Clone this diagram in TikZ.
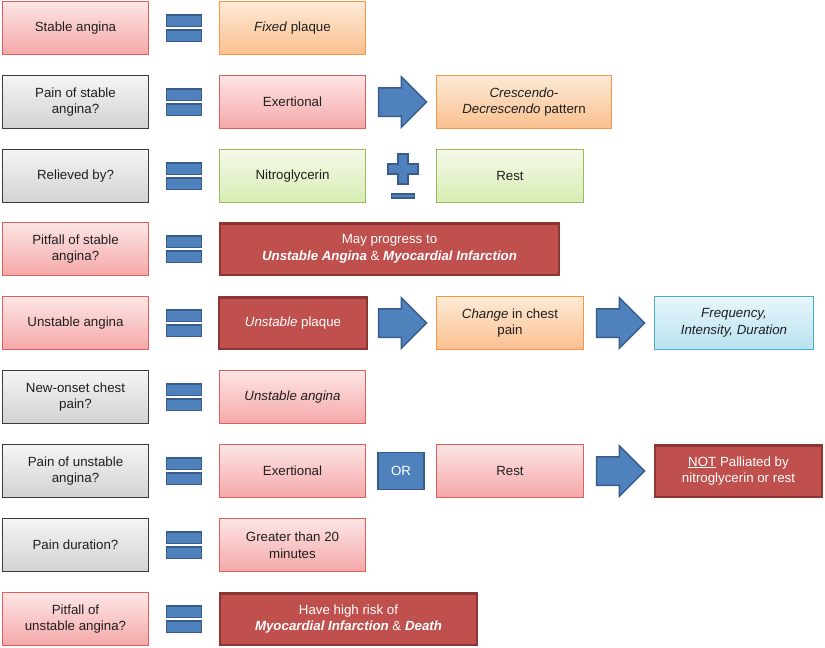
\documentclass[tikz,border=0pt]{standalone}
\usepackage{fontspec}
\setmainfont{Liberation Sans}
\usetikzlibrary{shapes.arrows}

\definecolor{pinktop}{HTML}{FDE5E5}
\definecolor{pinkbot}{HTML}{F5A8A8}
\definecolor{pinkline}{HTML}{DE5F5B}
\definecolor{graytop}{HTML}{F5F5F5}
\definecolor{graybot}{HTML}{D2D2D2}
\definecolor{grayline}{HTML}{3C3C3C}
\definecolor{orangetop}{HTML}{FDEAD6}
\definecolor{orangebot}{HTML}{FAC08F}
\definecolor{orangeline}{HTML}{F79646}
\definecolor{greentop}{HTML}{F4FAE8}
\definecolor{greenbot}{HTML}{D8ECB4}
\definecolor{greenline}{HTML}{9BBB59}
\definecolor{cyantop}{HTML}{E8F6FB}
\definecolor{cyanbot}{HTML}{B8E2EF}
\definecolor{cyanline}{HTML}{4BACC6}
\definecolor{darkred}{HTML}{C0504D}
\definecolor{darkredline}{HTML}{8C3634}
\definecolor{symfill}{HTML}{4F81BD}
\definecolor{symline}{HTML}{385D8A}

\begin{document}
\begin{tikzpicture}[
    x=1pt, y=-1pt,
    box/.style={rectangle, draw, text centered, align=center, minimum height=53pt, inner sep=2pt, line width=1pt, text=black!88, font=\fontsize{13.3}{16.7}\selectfont},
    pinkbox/.style={box, top color=pinktop, bottom color=pinkbot, draw=pinkline},
    graybox/.style={box, top color=graytop, bottom color=graybot, draw=grayline},
    orangebox/.style={box, top color=orangetop, bottom color=orangebot, draw=orangeline},
    greenbox/.style={box, top color=greentop, bottom color=greenbot, draw=greenline},
    cyanbox/.style={box, top color=cyantop, bottom color=cyanbot, draw=cyanline},
    redbox/.style={box, fill=darkred, draw=darkredline, line width=2.5pt, minimum height=51.5pt, text=white},
    bar/.style={rectangle, draw=symline, fill=symfill, line width=1.5pt, minimum width=35pt, minimum height=11.5pt, inner sep=0pt},
    bigarrow/.style={single arrow, draw=symline, fill=symfill, line width=1.5pt, minimum height=48pt, inner xsep=0pt, inner ysep=13.5pt, single arrow head extend=11pt}
]
\useasboundingbox (0,0) rectangle (825,648);

% Colonna sinistra
\node[pinkbox, minimum width=146pt] (q1) at (75.5,28) {Stable angina};
\node[graybox, minimum width=146pt] (q2) at (75.5,102) {Pain of stable\\angina?};
\node[graybox, minimum width=146pt] (q3) at (75.5,176) {Relieved by?};
\node[pinkbox, minimum width=146pt] (q4) at (75.5,249) {Pitfall of stable\\angina?};
\node[pinkbox, minimum width=146pt] (q5) at (75.5,323) {Unstable angina};
\node[graybox, minimum width=146pt] (q6) at (75.5,397) {New-onset chest\\pain?};
\node[graybox, minimum width=146pt] (q7) at (75.5,471) {Pain of unstable\\angina?};
\node[graybox, minimum width=146pt] (q8) at (75.5,545) {Pain duration?};
\node[pinkbox, minimum width=146pt] (q9) at (75.5,619) {Pitfall of\\unstable angina?};

% Segni di uguale
\foreach \i/\y in {1/28,2/102,3/176,4/249,5/323,6/397,7/471,8/545,9/619} {
    \node[bar] (eqtop\i) at (184,\y-7.5) {};
    \node[bar] (eqbot\i) at (184,\y+7.5) {};
}

% Colonna centrale
\node[orangebox, minimum width=146pt] (a1) at (292.5,28) {\textit{Fixed} plaque};
\node[pinkbox, minimum width=146pt] (a2) at (292.5,102) {Exertional};
\node[greenbox, minimum width=146pt] (a3) at (292.5,176) {Nitroglycerin};
\node[redbox, minimum width=339pt] (a4) at (389.5,249) {May progress to\\\textbf{\textit{Unstable Angina}} \& \textbf{\textit{Myocardial Infarction}}};
\node[redbox, minimum width=148pt] (a5) at (293,323) {\textit{Unstable} plaque};
\node[pinkbox, minimum width=146pt] (a6) at (292.5,397) {\textit{Unstable angina}};
\node[pinkbox, minimum width=146pt] (a7) at (292.5,471) {Exertional};
\node[pinkbox, minimum width=146pt] (a8) at (292.5,545) {Greater than 20\\minutes};
\node[redbox, minimum width=257pt] (a9) at (348.5,619) {Have high risk of\\\textbf{\textit{Myocardial Infarction}} \& \textbf{\textit{Death}}};

% Frecce e simboli
\node[bigarrow] (arr2) at (395.5,102) {};
\node[bigarrow] (arr5) at (395.5,323) {};
\node[bigarrow] (arr5b) at (613.5,323) {};
\node[bigarrow] (arr7) at (613.5,471) {};
\node[rectangle, draw=symline, fill=symfill, line width=1.5pt, minimum width=46pt, minimum height=37pt, text=white, font=\fontsize{13.3}{15}\selectfont] (or7) at (401,471) {OR};
\draw[draw=symline, fill=symfill, line width=1.5pt] (398,154) -- (408,154) -- (408,164) -- (418,164) -- (418,174) -- (408,174) -- (408,184) -- (398,184) -- (398,174) -- (388,174) -- (388,164) -- (398,164) -- cycle;
\node[bar, minimum width=23pt, minimum height=4pt] (minus3) at (403,196) {};

% Colonna destra
\node[orangebox, minimum width=175pt] (b2) at (524,102) {\textit{Crescendo-}\\\textit{Decrescendo} pattern};
\node[greenbox, minimum width=147pt] (b3) at (510,176) {Rest};
\node[orangebox, minimum width=147pt] (b5) at (510,323) {\textit{Change} in chest\\pain};
\node[cyanbox, minimum width=159pt] (c5) at (734,323) {\textit{Frequency,}\\\textit{Intensity, Duration}};
\node[pinkbox, minimum width=147pt] (b7) at (510,471) {Rest};
\node[redbox, minimum width=167pt] (c7) at (738.5,471) {\underline{NOT} Palliated by\\nitroglycerin or rest};

\end{tikzpicture}
\end{document}
